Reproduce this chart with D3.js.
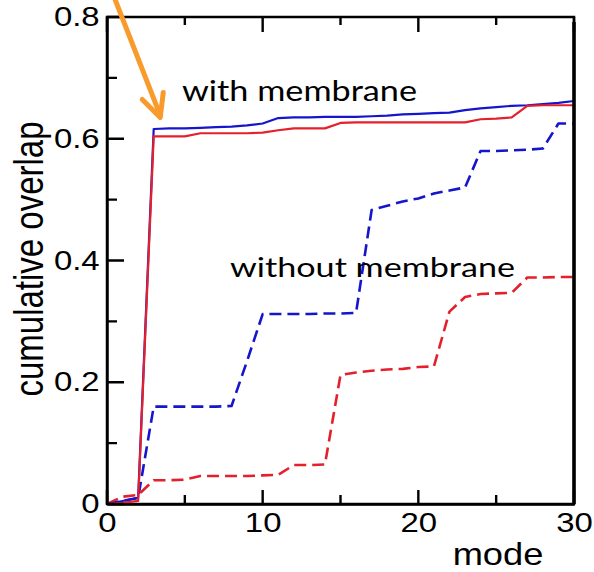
<!DOCTYPE html>
<html>
<head>
<meta charset="utf-8">
<script src="https://cdn.jsdelivr.net/npm/d3@7"></script>
<style>
  body { margin: 0; background: #fff; }
  svg { display: block; }
</style>
</head>
<body>
<svg id="chart" width="594" height="572"></svg>
<script>
// values
const modes = [0,1,2,3,4,5,6,7,8,9,10,11,12,13,14,15,16,17,18,19,20,21,22,23,24,25,26,27,28,29,30];
const withMembraneBlue = [0, 0.005, 0.01, 0.616, 0.617, 0.617, 0.618, 0.619, 0.620, 0.622, 0.625, 0.634, 0.635, 0.635, 0.636, 0.636, 0.636, 0.637, 0.638, 0.640, 0.641, 0.642, 0.643, 0.647, 0.650, 0.652, 0.654, 0.655, 0.657, 0.659, 0.662];
const withMembraneRed = [0, 0.002, 0.005, 0.604, 0.604, 0.604, 0.609, 0.609, 0.609, 0.609, 0.610, 0.614, 0.617, 0.617, 0.617, 0.626, 0.627, 0.627, 0.627, 0.627, 0.627, 0.627, 0.627, 0.627, 0.632, 0.633, 0.635, 0.654, 0.655, 0.655, 0.655];
const withoutMembraneBlue = [0, 0.005, 0.01, 0.16, 0.16, 0.16, 0.16, 0.16, 0.161, 0.235, 0.312, 0.312, 0.312, 0.312, 0.313, 0.313, 0.314, 0.483, 0.49, 0.497, 0.502, 0.51, 0.515, 0.52, 0.58, 0.58, 0.581, 0.582, 0.584, 0.625, 0.625];
const withoutMembraneRed = [0, 0.012, 0.015, 0.039, 0.039, 0.04, 0.046, 0.046, 0.046, 0.046, 0.047, 0.048, 0.064, 0.064, 0.065, 0.212, 0.216, 0.219, 0.221, 0.222, 0.225, 0.226, 0.316, 0.34, 0.345, 0.346, 0.347, 0.372, 0.372, 0.373, 0.373];

const xMajor = [0, 10, 20, 30];
const xMinor = [5, 15, 25];
const yMajor = [0, 0.2, 0.4, 0.6, 0.8];
const yMinor = [0.1, 0.3, 0.5, 0.7];

// annotation arrow, in data units (mode, overlap)
const arrowFrom = [0.5, 0.83];
const arrowTo = [3.42, 0.635];

const svg = d3.select('#chart');
const plotLeft = 107, plotRight = 574, plotTop = 17, plotBottom = 504;
const sx = 1.22;  // the original figure is stretched sideways

const x = d3.scaleLinear().domain([0, 30]).range([plotLeft, plotRight]);
const y = d3.scaleLinear().domain([0, 0.8]).range([plotBottom, plotTop]);

// box around the plot
svg.append('rect')
  .attr('x', plotLeft).attr('y', plotTop)
  .attr('width', plotRight - plotLeft).attr('height', plotBottom - plotTop)
  .attr('fill', 'none').attr('stroke', '#000').attr('stroke-width', 2.5);

// series
const line = d3.line()
  .x((d, i) => x(modes[i]))
  .y(d => y(d));

const series = [
  {values: withoutMembraneBlue, color: '#1515cc', dash: '12,6', width: 2.6},
  {values: withoutMembraneRed, color: '#e3202b', dash: '12,6', width: 2.6},
  {values: withMembraneBlue, color: '#1515cc', dash: null, width: 2.2},
  {values: withMembraneRed, color: '#e3202b', dash: null, width: 2.2}
];

svg.append('g')
  .selectAll('path')
  .data(series)
  .enter()
  .append('path')
  .attr('d', s => line(s.values))
  .attr('fill', 'none')
  .attr('stroke', s => s.color)
  .attr('stroke-width', s => s.width)
  .attr('stroke-dasharray', s => s.dash)
  .attr('stroke-linejoin', 'round');

// axes: domain lines and labels
const xAxis = svg.append('g')
  .attr('transform', `translate(0,${plotBottom})`)
  .call(d3.axisBottom(x).tickValues(xMajor).tickSize(0).tickPadding(9).tickFormat(d3.format('d')));

const yAxis = svg.append('g')
  .attr('transform', `translate(${plotLeft},0)`)
  .call(d3.axisLeft(y).tickValues(yMajor).tickSize(0)
    .tickFormat(d => d === 0 ? '0' : d3.format('.1f')(d)));

[xAxis, yAxis].forEach(g => {
  g.select('.domain').attr('stroke', '#000').attr('stroke-width', 2.4);
  g.selectAll('text')
    .attr('fill', '#000')
    .style('font-family', '"Liberation Sans", Arial, sans-serif')
    .style('font-size', '27px')
    .attr('transform', `scale(${sx},1)`);
});
xAxis.selectAll('text').attr('dy', '0.71em');
yAxis.selectAll('text').attr('x', -6);

// inward tick marks, bottom + top on x, left on y
const xTicks = [
  ...xMajor.map(v => ({v, len: 14, y0: plotBottom, dir: -1})),
  ...xMinor.map(v => ({v, len: 9, y0: plotBottom, dir: -1})),
  ...xMajor.map(v => ({v, len: 15, y0: plotTop, dir: 1})),
  ...xMinor.map(v => ({v, len: 8, y0: plotTop, dir: 1}))
];
const yTicks = [
  ...yMajor.map(v => ({v, len: 17})),
  ...yMinor.map(v => ({v, len: 10}))
];

const tickPath = d3.path();
xTicks.forEach(t => {
  tickPath.moveTo(x(t.v), t.y0);
  tickPath.lineTo(x(t.v), t.y0 + t.dir * t.len);
});
yTicks.forEach(t => {
  tickPath.moveTo(plotLeft, y(t.v));
  tickPath.lineTo(plotLeft + t.len, y(t.v));
});
svg.append('path')
  .attr('d', tickPath.toString())
  .attr('fill', 'none')
  .attr('stroke', '#000')
  .attr('stroke-width', 2.4);

// heavier right edge
svg.append('path')
  .attr('d', `M${plotRight},${plotTop + 5}V${plotBottom}`)
  .attr('stroke', '#000').attr('stroke-width', 3.5);

// axis titles
svg.append('text')
  .attr('transform', `translate(498,565) scale(${sx - 0.05},1)`)
  .attr('text-anchor', 'middle')
  .style('font-family', '"Liberation Sans", Arial, sans-serif')
  .style('font-size', '31px')
  .text('mode');

svg.append('text')
  .attr('transform', `translate(43,259) scale(${sx},1) rotate(-90)`)
  .attr('text-anchor', 'middle')
  .style('font-family', '"Liberation Sans", Arial, sans-serif')
  .style('font-size', '33px')
  .text('cumulative overlap');

// labels on the curves
svg.append('text')
  .attr('x', 182).attr('y', 101)
  .attr('textLength', 235).attr('lengthAdjust', 'spacingAndGlyphs')
  .style('font-family', 'Lato, "Open Sans", sans-serif')
  .style('font-size', '28px')
  .text('with membrane');

svg.append('text')
  .attr('x', 230).attr('y', 277)
  .attr('textLength', 285).attr('lengthAdjust', 'spacingAndGlyphs')
  .style('font-family', 'Lato, "Open Sans", sans-serif')
  .style('font-size', '27px')
  .text('without membrane');

// orange arrow pointing at the jump
const orange = '#f99a2c';
const tip = [x(arrowTo[0]), y(arrowTo[1])];
svg.append('path')
  .attr('d', `M${x(arrowFrom[0])},${y(arrowFrom[1])}L${tip[0]},${tip[1] - 2}`)
  .attr('stroke', orange).attr('stroke-width', 5);
svg.append('polyline')
  .attr('points', [[tip[0] - 18, tip[1] - 18], tip, [tip[0] + 3, tip[1] - 25]].map(p => p.join(',')).join(' '))
  .attr('fill', 'none')
  .attr('stroke', orange).attr('stroke-width', 5)
  .attr('stroke-linecap', 'round').attr('stroke-linejoin', 'round');
</script>
</body>
</html>
